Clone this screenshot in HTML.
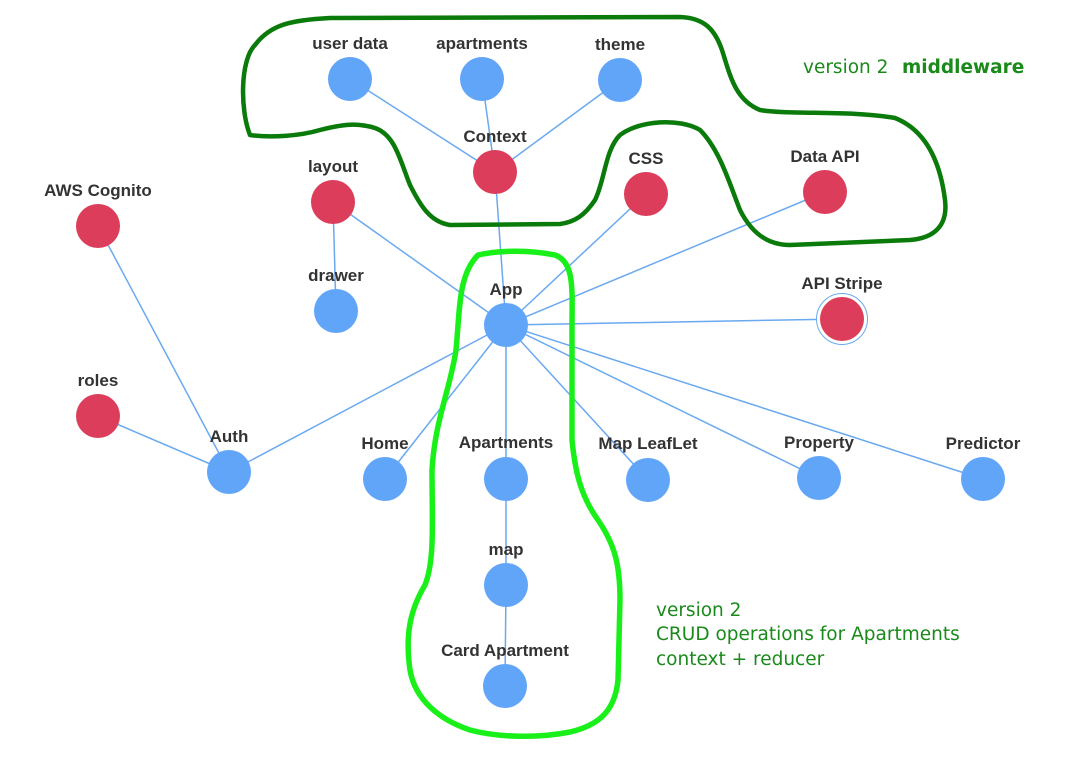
<!DOCTYPE html>
<html><head><meta charset="utf-8"><style>
html,body{margin:0;padding:0;background:#fff;width:1067px;height:757px;overflow:hidden}
svg{display:block}
.l{font-family:"Liberation Sans",sans-serif;font-weight:bold;font-size:17px;fill:#333;text-anchor:middle}
.g{font-family:"DejaVu Sans","Liberation Sans",sans-serif;font-size:18.5px;fill:#1a8a1a}
</style></head><body>
<svg width="1067" height="757" viewBox="0 0 1067 757">
<g stroke="#6aa9f0" stroke-width="1.5" fill="none">
<line x1="350" y1="79" x2="495" y2="172"/>
<line x1="482" y1="79" x2="495" y2="172"/>
<line x1="620" y1="80" x2="495" y2="172"/>
<line x1="495" y1="172" x2="506" y2="325"/>
<line x1="333" y1="202" x2="506" y2="325"/>
<line x1="333" y1="202" x2="336" y2="311"/>
<line x1="646" y1="194" x2="506" y2="325"/>
<line x1="825" y1="192" x2="506" y2="325"/>
<line x1="842" y1="319" x2="506" y2="325"/>
<line x1="506" y1="325" x2="229" y2="472"/>
<line x1="506" y1="325" x2="385" y2="479"/>
<line x1="506" y1="325" x2="506" y2="479"/>
<line x1="506" y1="325" x2="648" y2="480"/>
<line x1="506" y1="325" x2="819" y2="478"/>
<line x1="506" y1="325" x2="983" y2="479"/>
<line x1="506" y1="479" x2="506" y2="585"/>
<line x1="506" y1="585" x2="505" y2="686"/>
<line x1="98" y1="226" x2="229" y2="472"/>
<line x1="98" y1="416" x2="229" y2="472"/>
</g>
<g fill="#61a5f8">
<circle cx="350" cy="79" r="22"/><circle cx="482" cy="79" r="22"/><circle cx="620" cy="80" r="22"/>
<circle cx="336" cy="311" r="22"/><circle cx="506" cy="325" r="22"/><circle cx="229" cy="472" r="22"/>
<circle cx="385" cy="479" r="22"/><circle cx="506" cy="479" r="22"/><circle cx="648" cy="480" r="22"/>
<circle cx="819" cy="478" r="22"/><circle cx="983" cy="479" r="22"/><circle cx="506" cy="585" r="22"/>
<circle cx="505" cy="686" r="22"/>
</g>
<circle cx="842" cy="319" r="25.5" fill="#fff" stroke="#6aa9f0" stroke-width="1"/>
<g fill="#dc3d5a">
<circle cx="495" cy="172" r="22"/><circle cx="333" cy="202" r="22"/><circle cx="646" cy="194" r="22"/>
<circle cx="825" cy="192" r="22"/><circle cx="98" cy="226" r="22"/><circle cx="842" cy="319" r="22"/>
<circle cx="98" cy="416" r="22"/>
</g>
<g class="l">
<text x="350" y="49" class="l">user data</text>
<text x="482" y="49" class="l">apartments</text>
<text x="620" y="50" class="l">theme</text>
<text x="495" y="142" class="l">Context</text>
<text x="333" y="172" class="l">layout</text>
<text x="646" y="164" class="l">CSS</text>
<text x="825" y="162" class="l">Data API</text>
<text x="98" y="196" class="l">AWS Cognito</text>
<text x="336" y="281" class="l">drawer</text>
<text x="506" y="295" class="l">App</text>
<text x="842" y="289" class="l">API Stripe</text>
<text x="98" y="386" class="l">roles</text>
<text x="229" y="442" class="l">Auth</text>
<text x="385" y="449" class="l">Home</text>
<text x="506" y="448" class="l">Apartments</text>
<text x="648" y="449" class="l">Map LeafLet</text>
<text x="819" y="448" class="l">Property</text>
<text x="983" y="449" class="l">Predictor</text>
<text x="506" y="555" class="l">map</text>
<text x="505" y="656" class="l">Card Apartment</text>
</g>
<path d="M250,135 C240,110 240,60 255,45 C270,25 290,20 330,18 L680,17 C705,18 715,30 722,50 C730,75 735,100 760,110 C790,115 850,110 895,118 C925,130 940,160 945,200 C948,225 935,238 910,240 L790,245 C765,245 750,230 740,210 C730,185 720,150 700,130 C680,118 640,120 620,135 C605,150 605,180 595,200 C585,215 575,222 560,224 L450,225 C430,222 420,205 410,185 C400,160 395,135 375,128 C355,122 340,125 320,130 C300,136 270,138 250,135 Z" fill="none" stroke="#0a7a0a" stroke-width="4.5" stroke-linejoin="round"/>
<path d="M478,255 C500,250 530,250 555,255 C575,262 572,290 572,330 L572,440 C575,470 580,495 598,520 C615,545 620,565 620,600 L618,680 C615,710 600,725 570,732 C540,738 500,738 470,730 C440,720 415,700 410,670 C405,635 410,610 425,585 C435,560 432,520 432,470 C435,420 450,390 456,350 C460,310 458,275 478,255 Z" fill="none" stroke="#19f019" stroke-width="5.5" stroke-linejoin="round"/>
<text x="803" y="73" class="g">version 2</text>
<text x="902" y="73" class="g" style="font-weight:bold">middleware</text>
<text x="656" y="616" class="g">version 2</text>
<text x="656" y="640" class="g">CRUD operations for Apartments</text>
<text x="656" y="665" class="g">context + reducer</text>
</svg>
</body></html>
